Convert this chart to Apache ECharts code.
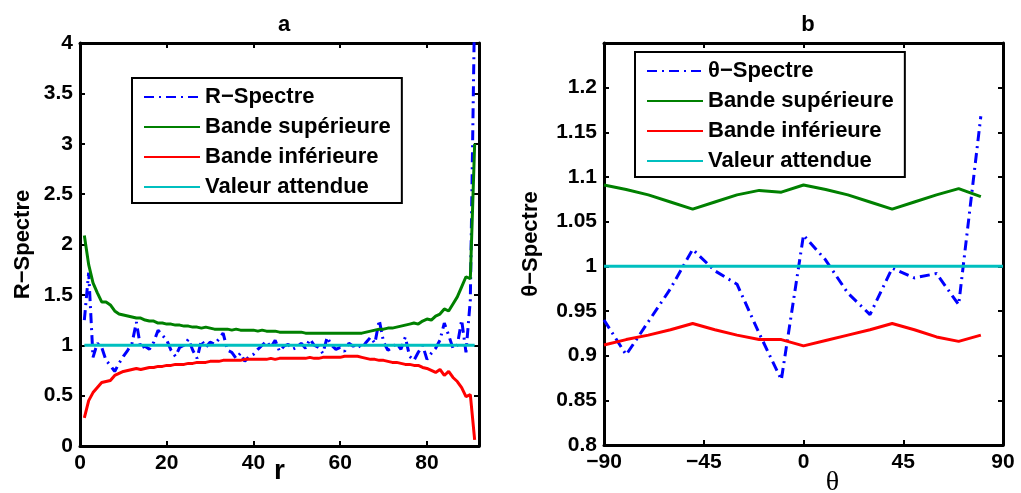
<!DOCTYPE html>
<html><head><meta charset="utf-8">
<script src="https://cdn.jsdelivr.net/npm/echarts@6/dist/echarts.min.js"></script>
<style>html,body{margin:0;padding:0;background:#fff}#c{width:1021px;height:493px}</style>
</head><body><div id="c"></div>
<script>
// ---------- Data (panel a) ----------
const rValues = Array.from({length: 91}, (_, i) => i + 1);
const rSpectre = [1.25,1.72,0.88,1.02,0.98,0.85,0.80,0.74,0.82,0.89,
  0.95,1.02,1.23,0.97,0.99,0.96,1.03,1.15,1.10,1.05,
  0.95,0.89,0.98,1.00,1.06,0.95,0.87,1.05,0.98,1.03,
  1.01,1.06,1.12,0.95,0.93,0.87,0.92,0.84,0.89,0.91,
  0.96,1.00,1.04,0.98,1.05,0.94,0.99,1.01,0.96,0.98,
  1.02,0.97,1.06,1.00,0.98,0.92,1.08,1.00,0.96,0.98,
  0.94,1.02,0.99,1.01,0.97,1.03,1.08,1.02,1.25,1.03,
  0.95,0.98,1.02,0.96,1.08,0.89,0.85,0.93,1.00,0.86,
  0.92,0.97,1.05,1.22,1.10,0.97,1.00,1.25,0.93,1.45,4.4];
const rUpper = [2.09,1.80,1.62,1.52,1.43,1.43,1.40,1.34,1.31,1.30,
  1.29,1.28,1.27,1.27,1.25,1.24,1.24,1.22,1.22,1.21,
  1.21,1.20,1.20,1.19,1.19,1.18,1.18,1.17,1.18,1.17,
  1.16,1.16,1.16,1.16,1.15,1.16,1.15,1.15,1.15,1.15,
  1.14,1.15,1.14,1.14,1.14,1.13,1.13,1.13,1.13,1.13,
  1.13,1.12,1.12,1.12,1.12,1.12,1.12,1.12,1.12,1.12,
  1.12,1.12,1.12,1.12,1.12,1.13,1.14,1.15,1.16,1.16,
  1.17,1.17,1.18,1.19,1.20,1.21,1.22,1.21,1.24,1.26,
  1.25,1.29,1.31,1.36,1.34,1.41,1.48,1.58,1.68,1.66,3.0];
const rLower = [0.28,0.45,0.53,0.58,0.63,0.64,0.65,0.70,0.72,0.74,
  0.75,0.76,0.77,0.76,0.77,0.78,0.78,0.79,0.79,0.80,
  0.80,0.81,0.81,0.81,0.82,0.82,0.83,0.83,0.83,0.84,
  0.84,0.84,0.85,0.85,0.85,0.85,0.85,0.86,0.86,0.86,
  0.86,0.86,0.86,0.87,0.86,0.87,0.87,0.87,0.87,0.87,
  0.87,0.87,0.88,0.87,0.87,0.88,0.88,0.88,0.88,0.88,
  0.89,0.89,0.89,0.89,0.88,0.87,0.86,0.86,0.85,0.85,
  0.84,0.83,0.83,0.82,0.81,0.81,0.80,0.80,0.78,0.77,
  0.75,0.73,0.76,0.70,0.74,0.68,0.64,0.58,0.49,0.51,0.06];
const rExpectedX = [1, 91];
const rExpectedY = [1, 1];

// ---------- Data (panel b) ----------
const thetaValues = [-90,-80,-70,-60,-50,-40,-30,-20,-10,0,10,20,30,40,50,60,70,80];
const thetaSpectre = [0.940,0.901,0.938,0.975,1.019,0.995,0.980,0.925,0.873,1.035,1.007,0.970,0.946,0.998,0.987,0.992,0.957,1.168];
const thetaUpper = [1.091,1.086,1.080,1.072,1.064,1.072,1.080,1.085,1.083,1.091,1.086,1.080,1.072,1.064,1.072,1.080,1.087,1.078];
const thetaLower = [0.912,0.918,0.923,0.929,0.936,0.929,0.923,0.918,0.918,0.911,0.917,0.923,0.929,0.936,0.929,0.921,0.916,0.923];
const thetaExpectedX = [-90, 90];
const thetaExpectedY = [1, 1];

const legendNamesA = ['R\u2212Spectre','Bande supérieure','Bande inférieure','Valeur attendue'];
const legendNamesB = ['\u03b8\u2212Spectre','Bande supérieure','Bande inférieure','Valeur attendue'];

// ---------- Styling ----------
const FONT = "'Liberation Sans', Arial, sans-serif";
const C_BLUE = '#0000ff', C_GREEN = '#008000', C_RED = '#ff0000', C_CYAN = '#00bfbf';
const zip = (xs, ys) => xs.map((x, i) => [x, ys[i]]);
const lblStyle = {color:'#000', fontSize:21, fontWeight:'bold', fontFamily:FONT};
const minusFmt = v => String(v).replace('-', '\u2212');
const decFmt = v => String(+(+v).toFixed(2));

function axis(base, extra) {
  return Object.assign({
    type:'value',
    nameMoveOverlap:false,
    axisLine:{show:true, onZero:false, lineStyle:{color:'#000', width:3}},
    axisTick:{show:true, inside:true, length:5, lineStyle:{color:'#000', width:2}},
    splitLine:{show:false},
    axisLabel:Object.assign({show:true, margin:7, showMaxLabel:false}, lblStyle)
  }, base, extra || {});
}
const hidden = {axisLabel:{show:false}, name:''};

const legendCommon = {
  orient:'vertical', itemWidth:56, itemHeight:14, itemGap:8,
  borderColor:'#000', borderWidth:2, backgroundColor:'#fff', padding:[8,11,5,11], selectedMode:false,
  itemStyle:{opacity:0, color:'rgba(0,0,0,0)', borderWidth:0},
  textStyle:{fontSize:22, fontWeight:'bold', fontFamily:FONT, color:'#000', lineHeight:22}
};

const chart = echarts.init(document.getElementById('c'), null, {renderer:'canvas'});
chart.setOption({
  animation:false,
  backgroundColor:'#fff',
  title:[
    {text:'a', left:279, top:9, textAlign:'center', textStyle:{fontSize:22, fontWeight:'bold', fontFamily:FONT, color:'#000'}},
    {text:'b', left:803, top:9, textAlign:'center', textStyle:{fontSize:22, fontWeight:'bold', fontFamily:FONT, color:'#000'}}
  ],
  grid:[
    {left:80, top:43, width:399, height:403, containLabel:false, outerBoundsMode:'none'},
    {left:604, top:43, width:399, height:402, containLabel:false, outerBoundsMode:'none'}
  ],
  xAxis:[
    axis({gridIndex:0, min:0, max:92, interval:20, position:'bottom',
      name:'r', nameLocation:'middle', nameGap:11,
      nameTextStyle:{fontSize:28, fontWeight:'bold', fontFamily:FONT, color:'#000'}}),
    axis({gridIndex:0, min:0, max:92, interval:20, position:'top'}, hidden),
    axis({gridIndex:1, min:-90, max:90, interval:45, position:'bottom',
      name:'\u03b8', nameLocation:'middle', nameGap:24,
      nameTextStyle:{fontSize:28, fontFamily:"'Liberation Serif', 'DejaVu Serif', serif", color:'#000', padding:[0,0,0,58]}},
      {axisLabel:Object.assign({show:true, margin:7, formatter:minusFmt, showMaxLabel:true}, lblStyle)}),
    axis({gridIndex:1, min:-90, max:90, interval:45, position:'top'}, hidden)
  ],
  yAxis:[
    axis({gridIndex:0, min:0, max:4, interval:0.5, position:'left',
      name:'R\u2212Spectre', nameLocation:'middle', nameGap:46,
      nameTextStyle:{fontSize:22, fontWeight:'bold', fontFamily:FONT, color:'#000'}},
      {axisLabel:Object.assign({show:true, margin:7, showMaxLabel:true}, lblStyle)}),
    axis({gridIndex:0, min:0, max:4, interval:0.5, position:'right'}, hidden),
    axis({gridIndex:1, min:0.8, max:1.25, interval:0.05, position:'left',
      name:'\u03b8\u2212Spectre', nameLocation:'middle', nameGap:62,
      nameTextStyle:{fontSize:22, fontWeight:'bold', fontFamily:FONT, color:'#000'}},
      {axisLabel:Object.assign({show:true, margin:7, formatter:decFmt, showMaxLabel:false}, lblStyle)}),
    axis({gridIndex:1, min:0.8, max:1.25, interval:0.05, position:'right'}, hidden)
  ],
  legend:[
    Object.assign({data:legendNamesA, left:132, top:78}, legendCommon),
    Object.assign({data:legendNamesB, left:635, top:52}, legendCommon)
  ],
  series:[
    {type:'line', name:legendNamesA[0], xAxisIndex:0, yAxisIndex:0, data:zip(rValues, rSpectre), symbol:'none', color:C_BLUE,
     lineStyle:{color:C_BLUE, width:3, type:[10,5,2,5]}},
    {type:'line', name:legendNamesA[1], xAxisIndex:0, yAxisIndex:0, data:zip(rValues, rUpper), symbol:'none', color:C_GREEN,
     lineStyle:{color:C_GREEN, width:3}},
    {type:'line', name:legendNamesA[2], xAxisIndex:0, yAxisIndex:0, data:zip(rValues, rLower), symbol:'none', color:C_RED,
     lineStyle:{color:C_RED, width:3}},
    {type:'line', name:legendNamesA[3], xAxisIndex:0, yAxisIndex:0, data:zip(rExpectedX, rExpectedY), symbol:'none', color:C_CYAN,
     lineStyle:{color:C_CYAN, width:3}},
    {type:'line', name:legendNamesB[0], xAxisIndex:2, yAxisIndex:2, data:zip(thetaValues, thetaSpectre), symbol:'none', color:C_BLUE,
     lineStyle:{color:C_BLUE, width:3, type:[10,5,2,5]}},
    {type:'line', name:legendNamesB[1], xAxisIndex:2, yAxisIndex:2, data:zip(thetaValues, thetaUpper), symbol:'none', color:C_GREEN,
     lineStyle:{color:C_GREEN, width:3}},
    {type:'line', name:legendNamesB[2], xAxisIndex:2, yAxisIndex:2, data:zip(thetaValues, thetaLower), symbol:'none', color:C_RED,
     lineStyle:{color:C_RED, width:3}},
    {type:'line', name:legendNamesB[3], xAxisIndex:2, yAxisIndex:2, data:zip(thetaExpectedX, thetaExpectedY), symbol:'none', color:C_CYAN,
     lineStyle:{color:C_CYAN, width:3}}
  ]
});
</script></body></html>
